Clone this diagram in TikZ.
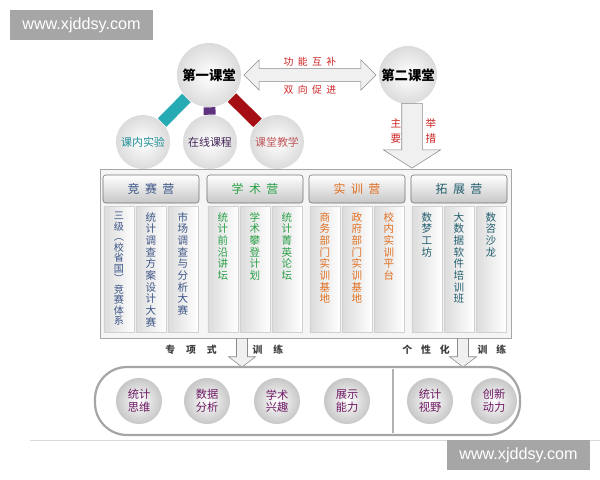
\documentclass[tikz,border=0pt]{standalone}
\usepackage{fontspec}
\setmainfont{Noto Sans CJK SC}
\newfontfamily\wmfont{Liberation Sans}
\usetikzlibrary{shapes.arrows,backgrounds,calc,positioning}

\definecolor{tealbar}{RGB}{38,170,180}
\definecolor{purplebar}{RGB}{95,50,125}
\definecolor{redbar}{RGB}{165,15,20}
\definecolor{tagred}{RGB}{205,35,35}
\definecolor{contestc}{RGB}{60,85,135}
\definecolor{academicc}{RGB}{40,160,70}
\definecolor{practicec}{RGB}{225,110,30}
\definecolor{expandc}{RGB}{35,95,110}
\definecolor{skillc}{RGB}{110,25,100}

\newcommand{\wide}{\hspace{0.45em}}

\tikzset{
  ball/.style={circle, shading=radial, inner color=white, outer color=black!14, inner sep=0pt},
  bigball/.style={ball, minimum size=1.6cm, font=\fontsize{9.5}{10}\selectfont\bfseries},
  smallball/.style={ball, minimum size=1.35cm, font=\fontsize{7.8}{9}\selectfont},
  camp/.style={rectangle, rounded corners=2pt, draw=black!55, top color=white, bottom color=black!22,
    minimum width=2.4cm, minimum height=0.7cm, font=\fontsize{8.5}{9}\selectfont},
  column/.style={rectangle, draw=black!18, left color=black!14, right color=white,
    minimum width=0.75cm, minimum height=3.15cm, anchor=north},
  coltext/.style={anchor=north, align=center, inner sep=0pt, yshift=-0.15cm,
    font=\fontsize{7.5}{8.3}\selectfont},
  hollow/.style={draw=black!45, fill=black!6},
  tag/.style={font=\fontsize{7}{11.3}\selectfont, text=tagred, align=center},
  skill/.style={circle, shading=radial, inner color=white, outer color=black!22,
    minimum size=1.15cm, inner sep=0pt, align=center, text=skillc, font=\fontsize{8}{9}\selectfont},
  mode/.style={font=\fontsize{7}{8}\selectfont\bfseries, text=black!75},
  bar/.style={line width=8.5pt},
  watermark/.style={fill=black!35, text=white, font=\wmfont\fontsize{11.5}{12}\selectfont,
    minimum width=3.575cm, minimum height=0.75cm, inner sep=0pt}
}

\begin{document}
\begin{tikzpicture}[x=0.025cm,y=-0.025cm]
\useasboundingbox (0,0) rectangle (600,480);

% two classrooms
\node[bigball] (first) at (209,75) {第一课堂};
\node[bigball, minimum size=1.45cm] (second) at (408,75) {第二课堂};

\node[smallball, text=tealbar!85!black] (lab) at (143,142) {课内实验};
\node[smallball, text=purplebar!70!black] (online) at (210,142) {在线课程};
\node[smallball, text=redbar!70!white] (lecture) at (277,142) {课堂教学};

\begin{scope}[on background layer]
\draw[bar, tealbar] (first) -- (lab);
\draw[bar, purplebar] (first) -- (online);
\draw[bar, redbar] (first) -- (lecture);
\end{scope}

\node[hollow, double arrow, inner sep=0.16cm, minimum height=3.3cm, double arrow head extend=0.21cm]
  (link) at ($(first.east)!0.5!(second.west)$) {};
\node[tag] at ($(link)+(0,-13)$) {功\wide 能\wide 互\wide 补};
\node[tag] at ($(link)+(0,15)$) {双\wide 向\wide 促\wide 进};

\node[hollow, single arrow, shape border rotate=270, inner sep=0.25cm, minimum height=1.62cm,
  single arrow head extend=0.46cm, single arrow tip angle=115, anchor=tail] (means) at (412,103) {};
\node[tag, font=\fontsize{7.5}{11.3}\selectfont] at (396,131) {主\\要};
\node[tag, font=\fontsize{7.5}{11.3}\selectfont] at (431,131) {举\\措};

% four camps
\draw[draw=black!35, fill=black!4] (100,169) rectangle (511,338);

\node[camp, text=contestc] (contest) at (151,189) {竞\wide 赛\wide 营};
\node[camp, text=academicc] (academic) at (255,189) {学\wide 术\wide 营};
\node[camp, text=practicec] (practice) at (357,189) {实\wide 训\wide 营};
\node[camp, text=expandc] (expand) at (459,189) {拓\wide 展\wide 营};

\node[column, label={[coltext, text=contestc, font=\fontsize{7.2}{7.45}\selectfont]north:{三\\级\\︵\\校\\省\\国\\︶\\竞\\赛\\体\\系}}] (c1) at (119,206) {};
\node[column, label={[coltext, text=contestc]north:{统\\计\\调\\查\\方\\案\\设\\计\\大\\赛}}] (c2) at (151,206) {};
\node[column, label={[coltext, text=contestc]north:{市\\场\\调\\查\\与\\分\\析\\大\\赛}}] (c3) at (183,206) {};

\node[column, label={[coltext, text=academicc]north:{统\\计\\前\\沿\\讲\\坛}}] (a1) at (223,206) {};
\node[column, label={[coltext, text=academicc]north:{学\\术\\攀\\登\\计\\划}}] (a2) at (255,206) {};
\node[column, label={[coltext, text=academicc]north:{统\\计\\菁\\英\\论\\坛}}] (a3) at (287,206) {};

\node[column, label={[coltext, text=practicec]north:{商\\务\\部\\门\\实\\训\\基\\地}}] (p1) at (325,206) {};
\node[column, label={[coltext, text=practicec]north:{政\\府\\部\\门\\实\\训\\基\\地}}] (p2) at (357,206) {};
\node[column, label={[coltext, text=practicec]north:{校\\内\\实\\训\\平\\台}}] (p3) at (389,206) {};

\node[column, label={[coltext, text=expandc]north:{数\\梦\\工\\坊}}] (e1) at (427,206) {};
\node[column, label={[coltext, text=expandc]north:{大\\数\\据\\软\\件\\培\\训\\班}}] (e2) at (459,206) {};
\node[column, label={[coltext, text=expandc]north:{数\\咨\\沙\\龙}}] (e3) at (491,206) {};

% two kinds of training
\node[hollow, single arrow, shape border rotate=270, inner sep=0.13cm, minimum height=0.72cm,
  single arrow head extend=0.2cm, single arrow tip angle=105, anchor=tail] (special) at (242,338) {};
\node[hollow, single arrow, shape border rotate=270, inner sep=0.13cm, minimum height=0.72cm,
  single arrow head extend=0.2cm, single arrow tip angle=105, anchor=tail] (personal) at (463,338) {};
\node[mode] at (191,350) {专\hspace{1.1em}项\hspace{1.1em}式};
\node[mode] at (268,350) {训\hspace{1.1em}练};
\node[mode] at (426,350) {个\hspace{0.9em}性\hspace{0.9em}化};
\node[mode] at (492,350) {训\hspace{0.9em}练};

\draw[draw=black!35, line width=1.6pt, fill=white, rounded corners=0.8cm] (95,367) rectangle (520,435);
\draw[black!30, line width=1.2pt] (393,369) -- (393,433);

\node[skill] (think) at (139,401) {统计\\思维};
\node[skill] (data) at (207,401) {数据\\分析};
\node[skill] (interest) at (277,401) {学术\\兴趣};
\node[skill] (show) at (347,401) {展示\\能力};
\node[skill] (vision) at (430,401) {统计\\视野};
\node[skill] (drive) at (494,401) {创新\\动力};

\draw[black!15] (30,440) -- (600,440);

\node[watermark] (wm1) at (81.5,25) {www.xjddsy.com};
\node[watermark] (wm2) at (518.5,455) {www.xjddsy.com};
\end{tikzpicture}
\end{document}
